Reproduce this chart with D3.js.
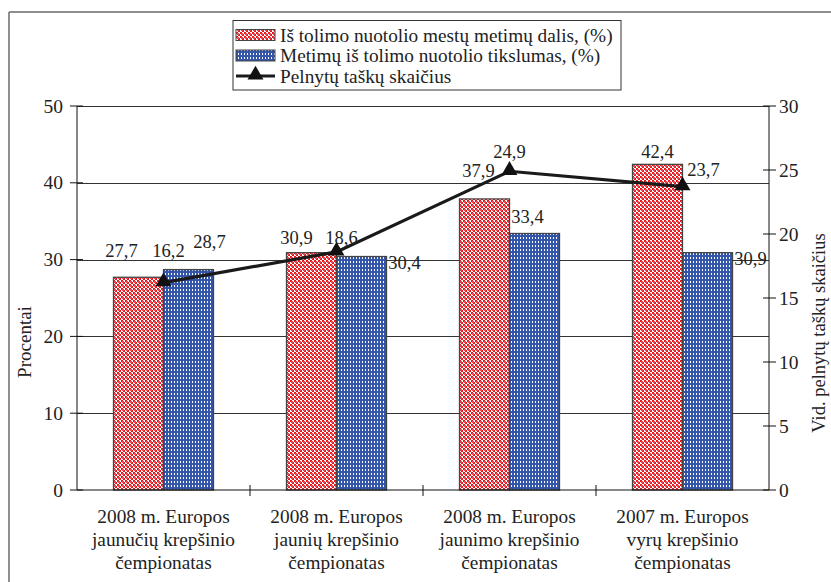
<!DOCTYPE html>
<html>
<head>
<meta charset="utf-8">
<script src="https://cdn.jsdelivr.net/npm/d3@7"></script>
<style>
  html, body { margin: 0; padding: 0; background: #fff; }
  svg { display: block; }
  text { font-family: "Liberation Serif", "Times New Roman", serif; fill: #222; }
</style>
</head>
<body>
<svg id="chart" width="831" height="582" font-family="Liberation Serif"></svg>
<script>
// Championship categories (three-line labels)
const categories = [
  ["2008 m. Europos", "jaunučių krepšinio", "čempionatas"],
  ["2008 m. Europos", "jaunių krepšinio", "čempionatas"],
  ["2008 m. Europos", "jaunimo krepšinio", "čempionatas"],
  ["2007 m. Europos", "vyrų krepšinio", "čempionatas"]
];
// Share of long-distance shots, %
const shareLong = [27.7, 30.9, 37.9, 42.4];
// Long-distance shooting accuracy, %
const accuracyLong = [28.7, 30.4, 33.4, 30.9];
// Average points scored
const pointsAvg = [16.2, 18.6, 24.9, 23.7];

const leftTicks = [0, 10, 20, 30, 40, 50];
const rightTicks = [0, 5, 10, 15, 20, 25, 30];
const legendLabels = [
  "Iš tolimo nuotolio mestų metimų dalis, (%)",
  "Metimų iš tolimo nuotolio tikslumas, (%)",
  "Pelnytų taškų skaičius"
];
const leftTitle = "Procentai";
const rightTitle = "Vid. pelnytų taškų skaičius";

// Label nudges (dx, dy) relative to each mark's anchor
const shareLabelShift = [[-17, -20], [-15, -9], [-6, -22], [0, -6]];
const pointsLabelShift = [[5, -26], [5, -8], [0, -13], [21, -11]];
const accuracyLabelShift = [[21, -22], [43, 12], [-7, -10], [43, 12]];

const fmt = v => String(v).replace(".", ",");
const svg = d3.select("#chart");

const plot = { left: 77, right: 769, top: 106, bottom: 490 };
const keys = categories.map((c, i) => i);

const x = d3.scaleBand().domain(keys).range([plot.left, plot.right]).padding(0);
const xs = d3.scaleBand().domain(["share", "acc"]).range([0, x.bandwidth()])
  .paddingInner(0).paddingOuter(0.73);
const yL = d3.scaleLinear().domain([0, 50]).range([plot.bottom, plot.top]);
const yR = d3.scaleLinear().domain([0, 30]).range([plot.bottom, plot.top]);

// Fill patterns
const defs = svg.append("defs");
const pr = defs.append("pattern").attr("id", "patRed").attr("patternUnits", "userSpaceOnUse")
  .attr("width", 4).attr("height", 4);
pr.append("rect").attr("width", 4).attr("height", 4).attr("fill", "#ffffff");
pr.append("rect").attr("x", 0).attr("y", 0).attr("width", 2).attr("height", 2).attr("fill", "#e8141c");
pr.append("rect").attr("x", 2).attr("y", 2).attr("width", 2).attr("height", 2).attr("fill", "#e8141c");
pr.append("rect").attr("x", 1).attr("y", 1).attr("width", 2).attr("height", 2).attr("fill", "#f04a50");

const pb = defs.append("pattern").attr("id", "patBlue").attr("patternUnits", "userSpaceOnUse")
  .attr("width", 3).attr("height", 4);
pb.append("rect").attr("width", 3).attr("height", 4).attr("fill", "#3356ab");
pb.append("rect").attr("x", 1).attr("y", 1).attr("width", 1).attr("height", 2).attr("fill", "#ffffff");

// Outer frame
svg.append("line").attr("x1", 9).attr("x2", 831).attr("y1", 12).attr("y2", 12)
  .attr("stroke", "#6a6a6a").attr("stroke-width", 1.5);
svg.append("line").attr("x1", 9).attr("x2", 9).attr("y1", 12).attr("y2", 582)
  .attr("stroke", "#6a6a6a").attr("stroke-width", 1.5);

// Gridlines
svg.append("g").selectAll("line").data(leftTicks.filter(t => t > 0)).join("line")
  .attr("x1", plot.left).attr("x2", plot.right)
  .attr("y1", d => Math.round(yL(d)) + 0.5).attr("y2", d => Math.round(yL(d)) + 0.5)
  .attr("stroke", "#333").attr("stroke-width", 1);

// Bars
const groups = svg.append("g").selectAll("g").data(keys).join("g")
  .attr("transform", i => `translate(${x(i)},0)`);
groups.append("rect")
  .attr("x", xs("share")).attr("width", xs.bandwidth())
  .attr("y", i => yL(shareLong[i])).attr("height", i => plot.bottom - yL(shareLong[i]))
  .attr("fill", "url(#patRed)").attr("stroke", "#444").attr("stroke-width", 1.3);
groups.append("rect")
  .attr("x", xs("acc")).attr("width", xs.bandwidth())
  .attr("y", i => yL(accuracyLong[i])).attr("height", i => plot.bottom - yL(accuracyLong[i]))
  .attr("fill", "url(#patBlue)").attr("stroke", "#444").attr("stroke-width", 1.3);

// Axes
const axisL = svg.append("g").attr("transform", `translate(${plot.left},0)`);
axisL.append("line").attr("y1", plot.top).attr("y2", plot.bottom).attr("stroke", "#111");
axisL.selectAll(".t").data(leftTicks).join("line")
  .attr("x1", -7).attr("x2", 6).attr("y1", d => yL(d)).attr("y2", d => yL(d)).attr("stroke", "#111");
axisL.selectAll("text").data(leftTicks).join("text")
  .attr("x", -14).attr("y", d => yL(d) + 6.5).attr("text-anchor", "end")
  .style("font-size", "19.5px").text(d => d);

const axisR = svg.append("g").attr("transform", `translate(${plot.right},0)`);
axisR.append("line").attr("y1", plot.top).attr("y2", plot.bottom).attr("stroke", "#111");
axisR.selectAll(".t").data(rightTicks).join("line")
  .attr("x1", -6).attr("x2", 7).attr("y1", d => yR(d)).attr("y2", d => yR(d)).attr("stroke", "#111");
axisR.selectAll("text").data(rightTicks).join("text")
  .attr("x", 10).attr("y", d => yR(d) + 6.5).attr("text-anchor", "start")
  .style("font-size", "19.5px").text(d => d);

const axisB = svg.append("g");
axisB.append("line").attr("x1", plot.left).attr("x2", plot.right)
  .attr("y1", plot.bottom).attr("y2", plot.bottom).attr("stroke", "#111");
axisB.selectAll("line.t").data(keys.slice(1)).join("line").attr("class", "t")
  .attr("x1", i => x(i)).attr("x2", i => x(i))
  .attr("y1", plot.bottom - 5).attr("y2", plot.bottom + 6).attr("stroke", "#111");
const catText = axisB.selectAll("text").data(keys).join("text")
  .attr("text-anchor", "middle").style("font-size", "19.3px");
catText.selectAll("tspan").data(i => categories[i].map(s => ({ s, i }))).join("tspan")
  .attr("x", d => x(d.i) + x.bandwidth() / 2)
  .attr("y", (d, k) => 523 + k * 23)
  .text(d => d.s);

// Axis titles
svg.append("text").attr("transform", `translate(31,${(plot.top + plot.bottom) / 2 + 44}) rotate(-90)`)
  .attr("text-anchor", "middle").style("font-size", "19px").text(leftTitle);
svg.append("text").attr("transform", `translate(825,${(plot.top + plot.bottom) / 2 + 35}) rotate(-90)`)
  .attr("text-anchor", "middle").style("font-size", "18.5px").text(rightTitle);

// Points line
const cx = i => x(i) + x.bandwidth() / 2;
const tri = d3.symbol().type(d3.symbolTriangle).size(110);
svg.append("path").datum(keys)
  .attr("d", d3.line().x(i => cx(i)).y(i => yR(pointsAvg[i])))
  .attr("fill", "none").attr("stroke", "#1a1a1a").attr("stroke-width", 3.2);
svg.append("g").selectAll("path").data(keys).join("path")
  .attr("transform", i => `translate(${cx(i)},${yR(pointsAvg[i]) - 1})`)
  .attr("d", tri).attr("fill", "#111");

// Value labels
const lbl = svg.append("g").style("font-size", "18.5px").attr("text-anchor", "middle");
lbl.selectAll(".ls").data(keys).join("text").attr("class", "ls")
  .attr("x", i => x(i) + xs("share") + xs.bandwidth() / 2 + shareLabelShift[i][0])
  .attr("y", i => yL(shareLong[i]) + shareLabelShift[i][1])
  .text(i => fmt(shareLong[i]));
lbl.selectAll(".la").data(keys).join("text").attr("class", "la")
  .attr("x", i => x(i) + xs("acc") + xs.bandwidth() / 2 + accuracyLabelShift[i][0])
  .attr("y", i => yL(accuracyLong[i]) + accuracyLabelShift[i][1])
  .text(i => fmt(accuracyLong[i]));
lbl.selectAll(".lp").data(keys).join("text").attr("class", "lp")
  .attr("x", i => cx(i) + pointsLabelShift[i][0])
  .attr("y", i => yR(pointsAvg[i]) + pointsLabelShift[i][1])
  .text(i => fmt(pointsAvg[i]));

// Legend
const lg = svg.append("g");
lg.append("rect").attr("x", 233).attr("y", 20.5).attr("width", 388).attr("height", 69.5)
  .attr("fill", "#fff").attr("stroke", "#333").attr("stroke-width", 1);
const rowY = [35, 55.5, 76];
lg.append("rect").attr("x", 236).attr("y", rowY[0] - 5.5).attr("width", 39).attr("height", 11)
  .attr("fill", "url(#patRed)").attr("stroke", "#444");
lg.append("rect").attr("x", 236).attr("y", rowY[1] - 5.5).attr("width", 39).attr("height", 11)
  .attr("fill", "url(#patBlue)").attr("stroke", "#444");
lg.append("line").attr("x1", 236).attr("x2", 275).attr("y1", rowY[2]).attr("y2", rowY[2])
  .attr("stroke", "#1a1a1a").attr("stroke-width", 3.2);
lg.append("path").attr("transform", `translate(255.5,${rowY[2] - 1})`).attr("d", tri).attr("fill", "#111");
lg.selectAll("text").data(legendLabels).join("text")
  .attr("x", 280).attr("y", (d, k) => rowY[k] + 6.5)
  .style("font-size", "19.3px").text(d => d);
</script>
</body>
</html>
